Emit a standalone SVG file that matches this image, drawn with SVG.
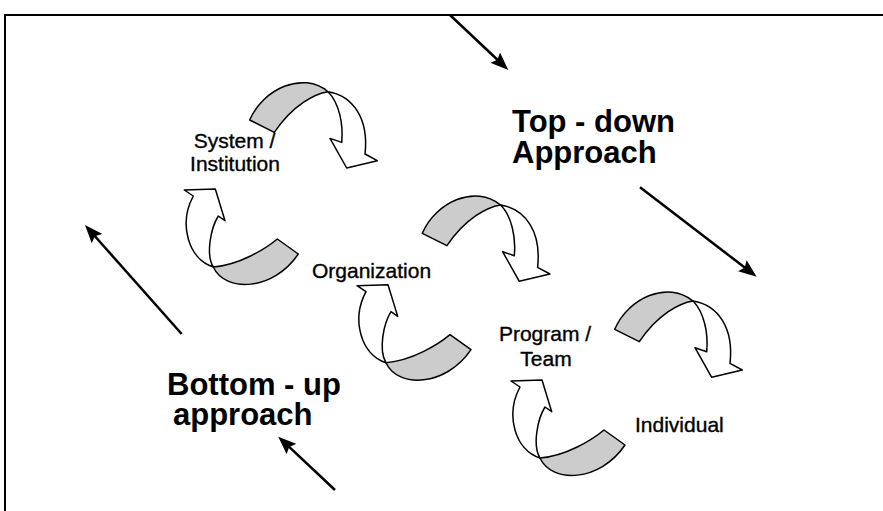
<svg xmlns="http://www.w3.org/2000/svg" width="883" height="511" viewBox="0 0 883 511">
<style>
  .frame{fill:none;stroke:#000;stroke-width:2}
  .band{fill:#cccccc;stroke:#000;stroke-width:1.5;stroke-linejoin:round}
  .wh{fill:#ffffff;stroke:#000;stroke-width:1.5;stroke-linejoin:round}
  .sa{fill:none;stroke:#000;stroke-width:2.5}
  .lbl{font-family:"Liberation Sans",Arial,sans-serif;font-size:21px;fill:#000;stroke:#000;stroke-width:0.35}
  .big{font-family:"Liberation Sans",Arial,sans-serif;font-size:31px;font-weight:bold;fill:#000}
</style>
<defs>
  <marker id="ah" viewBox="0 0 18 14" refX="10" refY="7" markerWidth="18" markerHeight="14" markerUnits="userSpaceOnUse" orient="auto">
    <path d="M0,0 L18,7 L0,14 L3,7 Z" fill="#000"/>
  </marker>
  <g id="cyc-top">
    <path class="wh" d="M693,301 C718,305 734,328 730,363.3 L742.3,370 L711.7,377.3 L695,347.7 L706.7,351.7 C708.5,333 704,312 693,301 Z"/>
    <path class="band" d="M614.7,329.3 C628,298 668,280 693,301 C680,303 658,314 639.3,341.7 Z"/>
  </g>
  <g id="cyc-bot">
    <path class="wh" d="M540,458 C515,450 505,415 520,387 L511,381 L542,380 L551.7,411.7 L545,407 C538,418 532,445 540,458 Z"/>
    <path class="band" d="M604,430 C592,440 566,456 540,458 C552,484 600,482 625,445 Z"/>
  </g>
</defs>
<rect width="883" height="511" fill="#fff"/>
<g id="frame"><path class="frame" d="M5,511 V15 H883"/></g>
<g id="connectors">
  <use href="#cyc-top" transform="translate(-365,-209.3)"/>
  <use href="#cyc-bot" transform="translate(-326.7,-191)"/>
  <use href="#cyc-top" transform="translate(-192.4,-96)"/>
  <use href="#cyc-bot" transform="translate(-154,-95.3)"/>
  <use href="#cyc-top"/>
  <use href="#cyc-bot"/>
  <line class="sa" x1="450" y1="15" x2="502.5" y2="64.5" marker-end="url(#ah)"/>
  <line class="sa" x1="640" y1="187.3" x2="750.3" y2="271.8" marker-end="url(#ah)"/>
  <line class="sa" x1="181.7" y1="334" x2="90.3" y2="231" marker-end="url(#ah)"/>
  <line class="sa" x1="335" y1="490" x2="284.1" y2="442.2" marker-end="url(#ah)"/>
</g>
<g id="node-system"><text class="lbl" text-anchor="middle"><tspan x="234.5" y="147.5">System /</tspan><tspan x="235" y="171">Institution</tspan></text></g>
<g id="node-organization"><text class="lbl" x="312" y="278">Organization</text></g>
<g id="node-program"><text class="lbl" text-anchor="middle"><tspan x="545" y="341">Program /</tspan><tspan x="546" y="366">Team</tspan></text></g>
<g id="node-individual"><text class="lbl" x="635" y="432">Individual</text></g>
<g id="label-topdown"><text class="big"><tspan x="512" y="132">Top - down</tspan><tspan x="512" y="163">Approach</tspan></text></g>
<g id="label-bottomup"><text class="big"><tspan x="167" y="395">Bottom - up</tspan><tspan x="173" y="425">approach</tspan></text></g>
</svg>
